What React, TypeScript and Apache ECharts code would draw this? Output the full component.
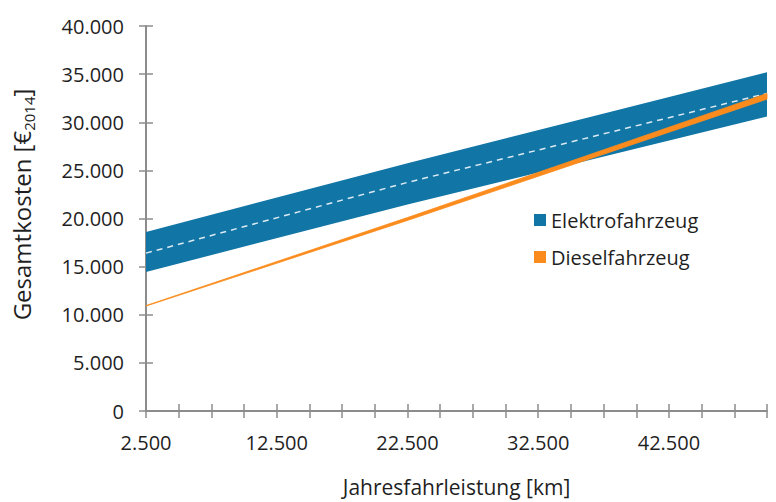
import React, { useEffect, useRef } from 'react';
import * as echarts from 'echarts';

// X positions (Jahresfahrleistung, km) at which the values were read
const xValues = [2500, 22500, 50000];
// Elektrofahrzeug band (lower / upper bound) and its dashed centre line
const elektroLow = [14450, 21450, 30600];
const elektroHigh = [18600, 25750, 35200];
const elektroMid = [16400, 23750, 33000];
// Dieselfahrzeug narrow band
const dieselLow = [10900, 19800, 32400];
const dieselHigh = [10950, 20100, 33000];

const legendNames = ['Elektrofahrzeug', 'Dieselfahrzeug'];
const xLabelValues = [2500, 12500, 22500, 32500, 42500];

const BLUE = '#1175a6';
const ORANGE = '#fb8b1c';
const AXIS = '#8c8c8c';
const TEXT = '#1f1f1f';
const FONT = "'Open Sans', 'Noto Sans', sans-serif";

const fmt = (v: number) => String(v).replace(/\B(?=(\d{3})+(?!\d))/g, '.');
const pairs = (ys: number[]) => xValues.map((x, i) => [x, ys[i]]);

const bandRenderer = (lo: number[], hi: number[], color: string, stroke: number) =>
  (params: any, api: any) => {
    const lower = xValues.map((x, i) => api.coord([x, lo[i]]));
    const upper = xValues.map((x, i) => api.coord([x, hi[i]])).reverse();
    return {
      type: 'polygon',
      shape: { points: [...lower, ...upper] },
      style: { fill: color, stroke: stroke > 0 ? color : 'none', lineWidth: stroke },
    };
  };

export default function App() {
  const ref = useRef<HTMLDivElement>(null);

  useEffect(() => {
    if (!ref.current) return;
    const chart = echarts.init(ref.current, undefined, { renderer: 'svg' });

    const xCommon = {
      type: 'value',
      min: 2500,
      max: 50000,
      interval: 2500,
      splitLine: { show: false },
    };
    const yCommon = {
      type: 'value',
      min: 0,
      max: 40000,
      interval: 5000,
      splitLine: { show: false },
    };

    chart.setOption({
      animation: false,
      textStyle: { fontFamily: FONT },
      grid: { left: 146, right: 9, top: 26, bottom: 89, containLabel: false },
      legend: {
        data: legendNames,
        orient: 'vertical',
        left: 529,
        top: 205,
        icon: 'rect',
        itemWidth: 12,
        itemHeight: 12,
        itemGap: 17,
        textStyle: { fontSize: 20, color: TEXT, fontFamily: FONT, lineHeight: 20 },
        selectedMode: false,
      },
      xAxis: [
        {
          ...xCommon,
          position: 'bottom',
          name: 'Jahresfahrleistung [km]',
          nameLocation: 'middle',
          nameGap: 65,
          nameTextStyle: { fontSize: 21, color: TEXT, fontFamily: FONT },
          axisLine: { show: true, lineStyle: { color: AXIS, width: 2 } },
          axisTick: { show: true, inside: false, length: 7, lineStyle: { color: AXIS, width: 1.5 } },
          axisLabel: {
            margin: 21,
            fontSize: 20,
            color: TEXT,
            fontFamily: FONT,
            formatter: (v: number) => (xLabelValues.includes(v) ? fmt(v) : ''),
          },
        },
        {
          ...xCommon,
          position: 'bottom',
          axisLine: { show: false },
          axisTick: { show: true, inside: true, length: 7, lineStyle: { color: AXIS, width: 1.5 } },
          axisLabel: { show: false },
        },
      ],
      yAxis: [
        {
          ...yCommon,
          position: 'left',
          name: '{a|Gesamtkosten [€}{s|2014}{a|]}',
          nameLocation: 'middle',
          nameGap: 110,
          nameTextStyle: {
            padding: [0, 0, 0, 28],
            rich: {
              a: { fontSize: 24, color: TEXT, fontFamily: FONT, lineHeight: 29 },
              s: { fontSize: 15, color: TEXT, fontFamily: FONT, lineHeight: 17, verticalAlign: 'bottom' },
            },
          },
          axisLine: { show: true, lineStyle: { color: AXIS, width: 2 } },
          axisTick: { show: true, inside: false, length: 7, lineStyle: { color: AXIS, width: 1.5 } },
          axisLabel: {
            margin: 22,
            fontSize: 20,
            color: TEXT,
            fontFamily: FONT,
            formatter: (v: number) => fmt(v),
          },
        },
        {
          ...yCommon,
          position: 'left',
          axisLine: { show: false },
          axisTick: { show: true, inside: true, length: 7, lineStyle: { color: AXIS, width: 1.5 } },
          axisLabel: { show: false },
        },
      ],
      series: [
        {
          type: 'custom',
          name: 'Elektrofahrzeug',
          data: [[xValues[0], elektroLow[0]]],
          renderItem: bandRenderer(elektroLow, elektroHigh, BLUE, 0),
          itemStyle: { color: BLUE },
          silent: true,
          z: 2,
        },
        {
          type: 'line',
          name: 'eMid',
          data: pairs(elektroMid),
          symbol: 'none',
          lineStyle: { color: '#dbeaf3', width: 1.5, type: [6, 5] },
          silent: true,
          z: 3,
        },
        {
          type: 'custom',
          name: 'Dieselfahrzeug',
          data: [[xValues[0], dieselLow[0]]],
          renderItem: bandRenderer(dieselLow, dieselHigh, ORANGE, 0.8),
          itemStyle: { color: ORANGE },
          silent: true,
          z: 4,
        },
      ],
    });

    return () => chart.dispose();
  }, []);

  return (
    <div
      ref={ref}
      style={{ position: 'fixed', left: 0, top: 0, width: 776, height: 502, background: '#fff' }}
    />
  );
}
